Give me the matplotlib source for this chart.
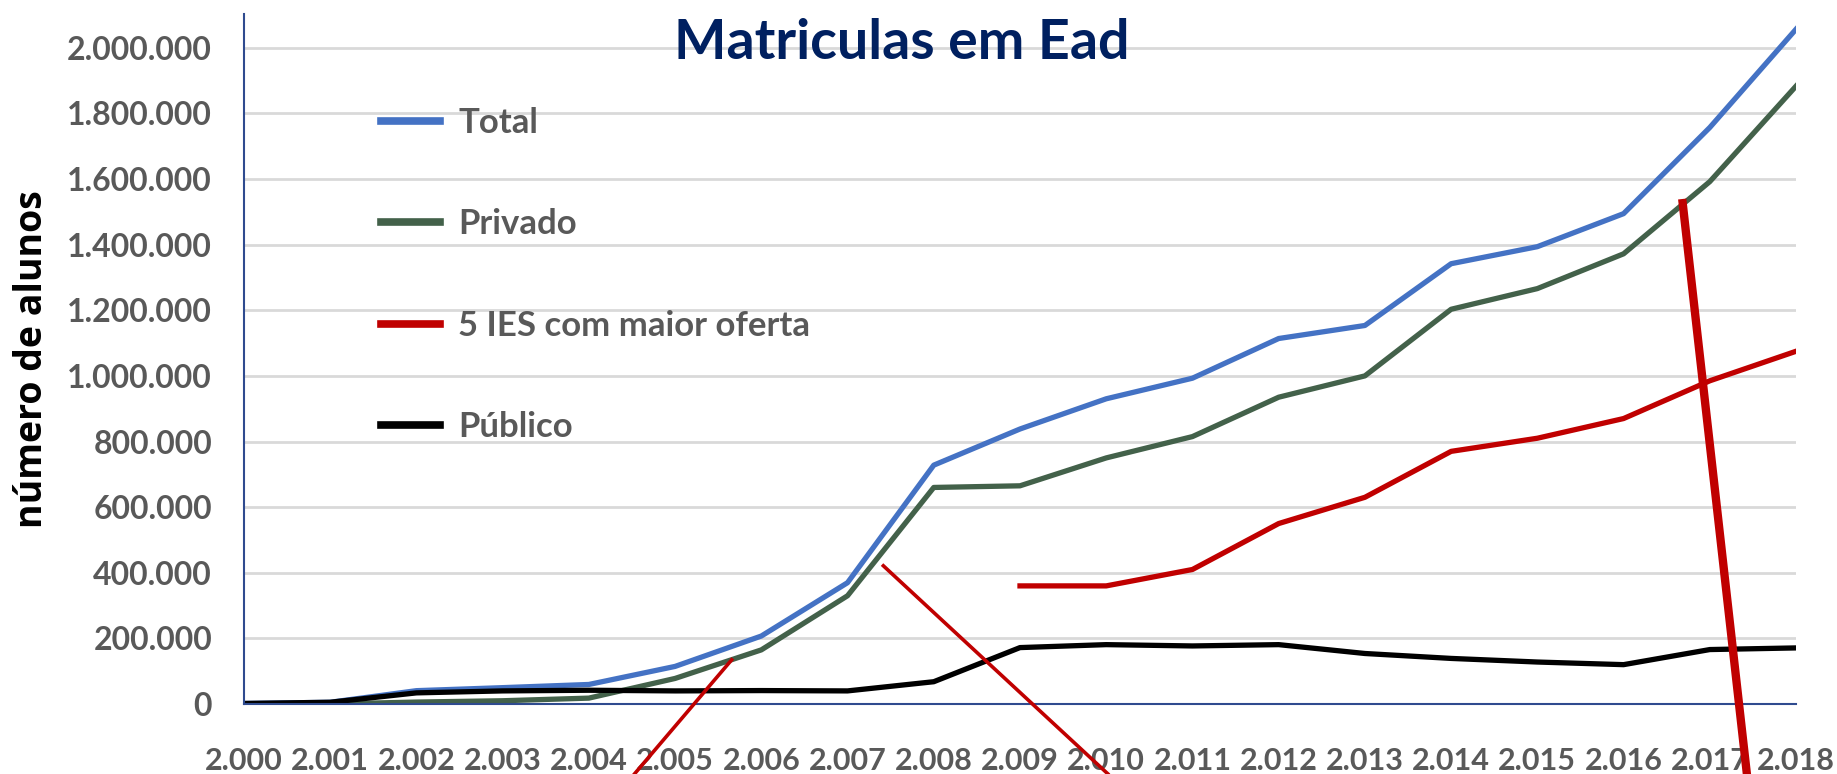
import matplotlib
matplotlib.use("Agg")
import matplotlib.pyplot as plt
from matplotlib.ticker import FuncFormatter, MultipleLocator

################################################################################
#  Data: EAD enrolments per year
################################################################################

years = list(range(2000, 2019))

total = [1682, 5359, 40714, 49911, 59611, 114642, 207206, 369766, 727961,
         838125, 930179, 992927, 1113850, 1153572, 1341842, 1393752,
         1494418, 1756982, 2056511]

privado = [0, 0, 6000, 10000, 18000, 78000, 165000, 330000, 660000,
           665000, 750000, 815000, 935000, 1000000, 1203000, 1266000,
           1372000, 1592000, 1883000]

publico = [1682, 5359, 34000, 40000, 42000, 40000, 41000, 40000, 68000,
           172000, 181000, 177000, 181000, 154000, 139000, 128000,
           120000, 166000, 171000]

years_ies = list(range(2009, 2019))
top5_ies = [360000, 360000, 410000, 550000, 630000, 770000, 810000,
            870000, 985000, 1075000]

# red pointer strokes drawn over the chart (start year/value, end year/value)
pointer_starts = [(2005.67, 139000), (2007.40, 425000), (2016.68, 1539000)]
pointer_ends = [(2004.15, -330000), (2010.50, -330000), (2017.48, -330000)]
pointer_widths = [2.6, 2.6, 6.0]

################################################################################
#  Styling
################################################################################

plt.rcParams['font.family'] = ['Lato', 'DejaVu Sans']
GRAY = "#595959"
NAVY = "#002060"
AXIS_BLUE = "#2F4B8F"
RED = "#C00000"


def thousands(value, _pos):
    return f"{int(round(value)):,}".replace(",", ".")


fig = plt.figure(figsize=(18.37, 7.74), dpi=100)
ax = fig.add_axes([0.1328, 0.0904, 0.8449, 0.8916])

ax.plot(years, total, color="#4472C4", lw=3.8, label="Total")
ax.plot(years, privado, color="#43614A", lw=3.8, label="Privado")
ax.plot(years_ies, top5_ies, color=RED, lw=3.8, label="5 IES com maior oferta")
ax.plot(years, publico, color="black", lw=3.8, label="Público")

ax.set_xlim(2000, 2018)
ax.set_ylim(0, 2103000)
ax.yaxis.set_major_locator(MultipleLocator(200000))
ax.xaxis.set_major_locator(MultipleLocator(1))
ax.yaxis.set_major_formatter(FuncFormatter(thousands))
ax.xaxis.set_major_formatter(FuncFormatter(thousands))

ax.grid(axis="y", color="#D9D9D9", lw=2)
ax.set_axisbelow(True)
for side in ("top", "right"):
    ax.spines[side].set_visible(False)
ax.spines["left"].set_color(AXIS_BLUE)
ax.spines["left"].set_linewidth(1.5)
ax.spines["bottom"].set_color(AXIS_BLUE)
ax.spines["bottom"].set_linewidth(1.5)
ax.tick_params(length=0, labelcolor=GRAY)
ax.tick_params(axis="x", pad=31, labelsize=22)
ax.tick_params(axis="y", pad=23, labelsize=23)
for lbl in ax.get_xticklabels() + ax.get_yticklabels():
    lbl.set_fontweight("bold")

ax.set_ylabel("número de alunos", fontsize=27, fontweight="bold",
              color="black", family=["Open Sans", "DejaVu Sans"])
ax.yaxis.set_label_coords(-0.124, 0.50)

fig.text(0.491, 0.945, "Matriculas em Ead", ha="center", va="center",
         fontsize=40, fontweight="bold", color=NAVY)

leg = ax.legend(loc="upper left", bbox_to_anchor=(0.2074, 0.862),
                bbox_transform=fig.transFigure, frameon=False,
                fontsize=25, labelspacing=2.0, handlelength=1.7,
                handletextpad=0.52, borderpad=0, borderaxespad=0)
for txt in leg.get_texts():
    txt.set_color(GRAY)
    txt.set_fontweight("bold")
for line in leg.get_lines():
    line.set_linewidth(5.5)

for (x0, y0), (x1, y1), w in zip(pointer_starts, pointer_ends, pointer_widths):
    ax.plot([x0, x1], [y0, y1], color=RED, lw=w, clip_on=False,
            solid_capstyle="butt", zorder=5)

fig.savefig("out.png", dpi=100)
